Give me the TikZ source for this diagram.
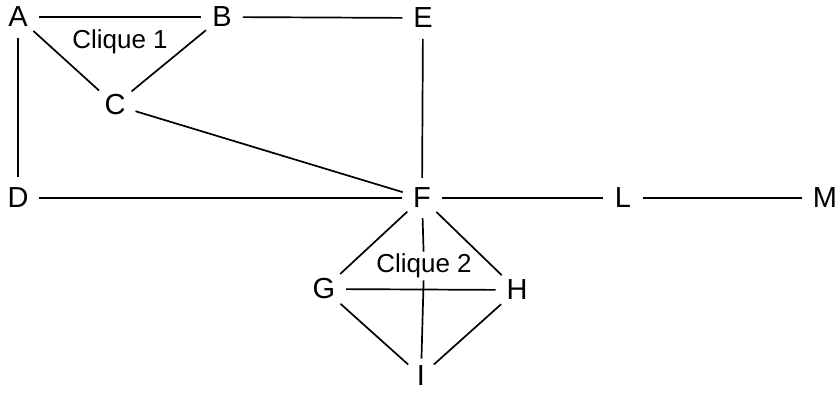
\documentclass[tikz,border=0pt]{standalone}
\usepackage{fontspec}
\setmainfont{Liberation Sans}
\begin{document}
\begin{tikzpicture}[x=1pt,y=-1pt,
  vertex/.style={font=\fontsize{29}{29}\selectfont, inner sep=4pt, circle},
  cliquelabel/.style={font=\fontsize{26}{26}\selectfont, inner sep=1pt},
  edge/.style={line width=1.7pt, shorten >=1pt, shorten <=1pt}]
\useasboundingbox (0,0) rectangle (838,392);
\node[vertex] (A) at (18,17) {A};
\node[vertex] (B) at (222,17) {B};
\node[vertex] (E) at (423,18) {E};
\node[vertex] (C) at (115,105) {C};
\node[vertex] (D) at (18,198) {D};
\node[vertex] (F) at (422,198) {F};
\node[vertex] (L) at (623,198) {L};
\node[vertex] (M) at (825,198) {M};
\node[vertex] (G) at (324,289) {G};
\node[vertex] (H) at (517,290) {H};
\node[vertex] (I) at (421,376) {I};
\node[cliquelabel] (c1) at (120,42) {Clique 1};
\node[cliquelabel] (c2) at (424,266) {Clique 2};
\draw[edge] (A) -- (B);
\draw[edge] (B) -- (E);
\draw[edge] (A) -- (C);
\draw[edge] (B) -- (C);
\draw[edge] (A) -- (D);
\draw[edge] (C) -- (F);
\draw[edge] (D) -- (F);
\draw[edge] (E) -- (F);
\draw[edge] (F) -- (L);
\draw[edge] (L) -- (M);
\draw[edge] (F) -- (G);
\draw[edge] (F) -- (H);
\draw[edge] (G) -- (H);
\draw[edge] (G) -- (I);
\draw[edge] (H) -- (I);
\draw[edge] (F) -- (c2);
\draw[edge] (c2) -- (I);
\end{tikzpicture}
\end{document}
